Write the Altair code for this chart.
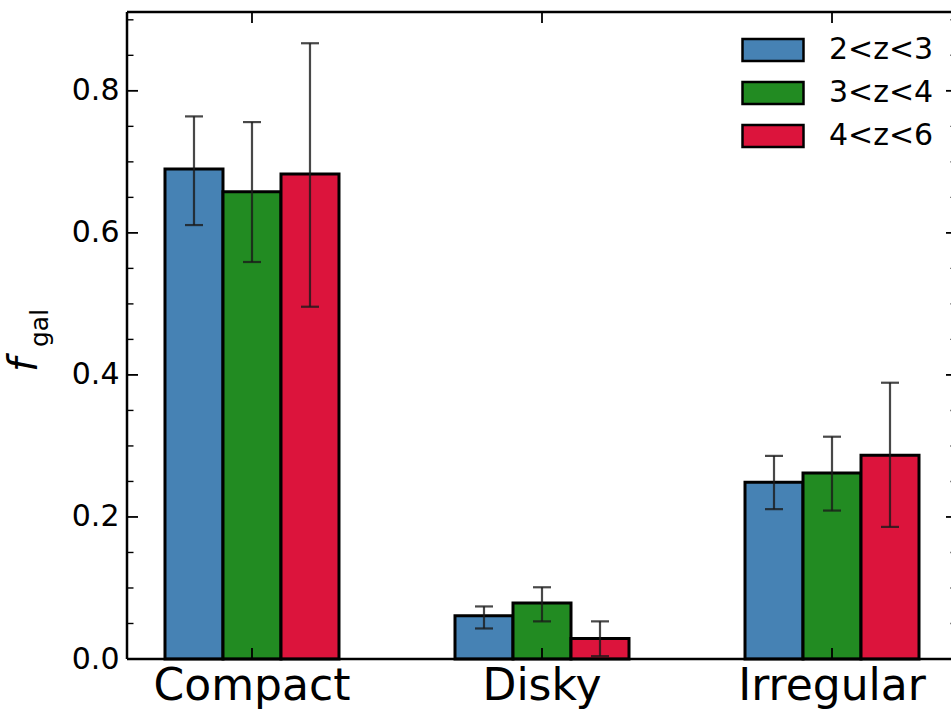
import altair as alt
import pandas as pd

categories = ["Compact", "Disky", "Irregular"]
series = ["2<z<3", "3<z<4", "4<z<6"]
colors = ["#4682B4", "#228B22", "#DC143C"]

val_2_3 = [0.690, 0.061, 0.249]
lo_2_3 = [0.611, 0.043, 0.211]
hi_2_3 = [0.764, 0.074, 0.286]

val_3_4 = [0.658, 0.079, 0.262]
lo_3_4 = [0.559, 0.053, 0.209]
hi_3_4 = [0.756, 0.101, 0.313]

val_4_6 = [0.683, 0.029, 0.287]
lo_4_6 = [0.496, 0.004, 0.186]
hi_4_6 = [0.867, 0.053, 0.389]

major_ticks = [0.0, 0.2, 0.4, 0.6, 0.8]
minor_ticks = [0.05, 0.1, 0.15, 0.25, 0.3, 0.35, 0.45, 0.5, 0.55, 0.65, 0.7, 0.75, 0.85, 0.9]

rows = []
for s, v, lo, hi in zip(series, [val_2_3, val_3_4, val_4_6], [lo_2_3, lo_3_4, lo_4_6], [hi_2_3, hi_3_4, hi_4_6]):
    for c, a, b, d in zip(categories, v, lo, hi):
        rows.append({"cat": c, "series": s, "value": a, "lo": b, "hi": d})
df = pd.DataFrame(rows)

W, H = 824, 647
XR = 830  # full x range (right spine lies just past the visible window)

xscale = alt.Scale(domain=categories, range=[0, XR], paddingInner=0.4, paddingOuter=0.131)
yscale = alt.Scale(domain=[0, 0.911], nice=False, zero=True)
yaxis = alt.Axis(values=major_ticks, format=".1f", title=None, ticks=False, tickSize=0,
                 domain=False, grid=False, labelFontSize=30, labelPadding=8,
                 labelColor="black", labelFont="DejaVu Sans")
X = alt.X("cat:N", scale=xscale, axis=None)
XO = alt.XOffset("series:N", scale=alt.Scale(domain=series, paddingInner=0, paddingOuter=0))


def Y(field):
    return alt.Y(field, scale=yscale, axis=yaxis, title=None)


sym = "M-1,-0.36H1V0.36H-1Z"

bars = alt.Chart(df).mark_bar(stroke="black", strokeWidth=3, opacity=1).encode(
    x=X,
    xOffset=XO,
    y=Y("value:Q"),
    color=alt.Color("series:N", scale=alt.Scale(domain=series, range=colors),
                    legend=alt.Legend(title=None, orient="none", legendX=614, legendY=23,
                                      symbolType=sym, symbolSize=3721, symbolStrokeColor="black",
                                      symbolStrokeWidth=2.5, symbolOpacity=1, labelFontSize=30,
                                      labelFont="DejaVu Sans", labelColor="black", labelOffset=24,
                                      clipHeight=30, rowPadding=13, padding=0)),
)

ecol = "#1a1a1a"
err = alt.Chart(df).mark_rule(color=ecol, opacity=0.8, strokeWidth=2.2).encode(
    x=X, xOffset=XO, y=Y("lo:Q"), y2="hi:Q",
)
cap_lo = alt.Chart(df).mark_tick(color=ecol, opacity=0.8, thickness=2.2, size=18, orient="horizontal").encode(
    x=X, xOffset=XO, y=Y("lo:Q"),
)
cap_hi = alt.Chart(df).mark_tick(color=ecol, opacity=0.8, thickness=2.2, size=18, orient="horizontal").encode(
    x=X, xOffset=XO, y=Y("hi:Q"),
)

one = pd.DataFrame({"k": [0]})
spine_left = alt.Chart(one).mark_rule(color="black", strokeWidth=2.5).encode(
    x=alt.value(0), y=alt.value(0), y2=alt.value(H))
spine_top = alt.Chart(one).mark_rule(color="black", strokeWidth=2.5).encode(
    x=alt.value(0), x2=alt.value(XR), y=alt.value(0))
spine_bottom = alt.Chart(one).mark_rule(color="black", strokeWidth=2.5).encode(
    x=alt.value(0), x2=alt.value(XR), y=alt.value(H))

dmaj = pd.DataFrame({"t": major_ticks})
dmin = pd.DataFrame({"t": minor_ticks})
ymaj_l = alt.Chart(dmaj).mark_rule(color="black", strokeWidth=1.8).encode(
    y=Y("t:Q"), x=alt.value(0), x2=alt.value(11))
ymin_l = alt.Chart(dmin).mark_rule(color="black", strokeWidth=1.4).encode(
    y=Y("t:Q"), x=alt.value(0), x2=alt.value(6.5))
ymaj_r = alt.Chart(dmaj).mark_rule(color="black", strokeWidth=1.8).encode(
    y=Y("t:Q"), x=alt.value(XR - 11), x2=alt.value(XR))
ymin_r = alt.Chart(dmin).mark_rule(color="black", strokeWidth=1.4).encode(
    y=Y("t:Q"), x=alt.value(XR - 6.5), x2=alt.value(XR))

dcat = pd.DataFrame({"cat": categories})
xt_top = alt.Chart(dcat).mark_rule(color="black", strokeWidth=1.8).encode(
    x=X, y=alt.value(0), y2=alt.value(11))
xt_bot = alt.Chart(dcat).mark_rule(color="black", strokeWidth=1.8).encode(
    x=X, y=alt.value(H - 11), y2=alt.value(H))
xlabels = alt.Chart(dcat).mark_text(fontSize=44, font="DejaVu Sans", color="black",
                                    baseline="alphabetic", align="center").encode(
    x=X, y=alt.value(688), text="cat:N")

ylab_f = alt.Chart(one).mark_text(text="f", fontSize=40, font="DejaVu Sans", fontStyle="italic",
                                  angle=270, align="left", baseline="alphabetic", color="black").encode(
    x=alt.value(-90), y=alt.value(360))
ylab_gal = alt.Chart(one).mark_text(text="gal", fontSize=25, font="DejaVu Sans",
                                    angle=270, align="left", baseline="alphabetic", color="black").encode(
    x=alt.value(-79), y=alt.value(335))

chart = alt.layer(
    bars, err, cap_lo, cap_hi,
    spine_left, spine_top, spine_bottom,
    ymaj_l, ymin_l, ymaj_r, ymin_r, xt_top, xt_bot,
    xlabels, ylab_f, ylab_gal,
).properties(
    width=W, height=H,
    autosize=alt.AutoSizeParams(type="none"),
    padding={"left": 127, "top": 12, "right": 0, "bottom": 50},
).configure_view(stroke=None).configure(background="white")

chart.save("out.html", embed_options={"renderer": "svg", "actions": False})
